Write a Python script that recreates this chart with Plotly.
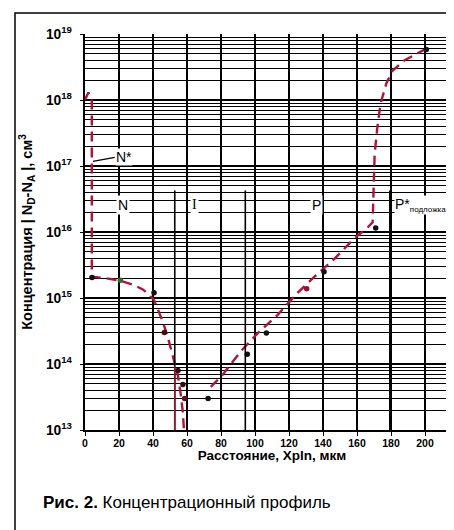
import plotly.graph_objects as go

# ---- data ----
# fitted profile (red dashed), left part (N*/N region down into I)
fit_left_x = [0, 2, 4, 4, 12, 20, 28, 34, 38, 40.6, 43, 46, 49, 52, 54.7, 56.5, 57.6, 58.2]
fit_left_y = [1.0e18, 1.3e18, 9.5e17, 2.1e15, 2.0e15, 1.85e15, 1.6e15, 1.35e15, 1.1e15, 9.3e14,
              6.6e14, 4.2e14, 2.4e14, 1.25e14, 6.6e13, 3.2e13, 1.8e13, 1.0e13]
# fitted profile, right part (I -> P -> P* substrate)
fit_right_x = [74, 81, 92, 102, 113.5, 125, 135, 147, 156.7, 161, 165.5, 169.2, 169.5, 169.8,
               170.4, 172, 173.9, 177.3, 181, 188, 200.8]
fit_right_y = [4.5e13, 6.9e13, 1.6e14, 3.0e14, 5.6e14, 1.2e15, 2.1e15, 4.0e15, 7.2e15, 9.1e15,
               1.12e16, 1.4e16, 2.6e16, 6.0e16, 1.55e17, 3.9e17, 8.9e17, 1.8e18, 2.8e18, 4.0e18, 6.0e18]
# measured points
meas_x = [4.1, 20.8, 40.6, 46.7, 54.7, 57.6, 58.6, 72.4, 95.5, 106.7, 130.4, 140.6, 171, 200.8]
meas_y = [2.05e15, 1.85e15, 1.2e15, 3.0e14, 8e13, 4.9e13, 3.0e13, 3.0e13, 1.4e14, 2.95e14,
          1.38e15, 2.5e15, 1.15e16, 5.8e18]
meas_colors = ["#111111", "#2f6b2f", "#111111", "#3a1010", "#2a1010", "#2a1010", "#5a1020",
               "#111111", "#111111", "#111111", "#9a1030", "#111111", "#111111", "#111111"]

x_ticks = [0, 20, 40, 60, 80, 100, 120, 140, 160, 180, 200, 220]

# region labels (x, log10 y, text)
region_x = [22.5, 64.5, 136]
region_text = ["N", "I", "P"]
region_fonts = ["Liberation Sans", "Liberation Serif", "Liberation Sans"]
region_label_logy = 16.41
boundary_x = [52.8, 94.3, 179.3]
boundary_top_logy = 16.63
YMIN_LOG, YMAX_LOG = 13, 19


def ypaper(logv):
    return (logv - YMIN_LOG) / (YMAX_LOG - YMIN_LOG)


RED = "#b3123a"
W, H = 454, 530
L, R, T, B = 77, 3, 26, 108

fig = go.Figure()
fig.add_trace(go.Scatter(x=fit_left_x, y=fit_left_y, mode="lines",
                         line=dict(color=RED, width=2.4, dash="10px,6px"), showlegend=False))
fig.add_trace(go.Scatter(x=fit_right_x, y=fit_right_y, mode="lines",
                         line=dict(color=RED, width=2.4, dash="10px,6px"), showlegend=False))
fig.add_trace(go.Scatter(x=meas_x, y=meas_y, mode="markers",
                         marker=dict(color=meas_colors, size=5.5), showlegend=False))

# region boundaries
for bx in boundary_x:
    fig.add_shape(type="line", xref="x", yref="paper", x0=bx, x1=bx, y0=0, y1=ypaper(boundary_top_logy),
                  line=dict(color="black", width=1.6), layer="above")
fig.add_shape(type="line", xref="x", yref="paper", x0=52.8, x1=52.8, y0=0, y1=ypaper(13.97),
              line=dict(color="#9b1236", width=1.6), layer="above")

for rx, rt, rf in zip(region_x, region_text, region_fonts):
    fig.add_annotation(x=rx, y=region_label_logy, xref="x", yref="y", text=rt, showarrow=False,
                       font=dict(family=rf, size=14, color="black"), bgcolor="white", borderpad=1)
fig.add_annotation(x=181.5, y=region_label_logy, xref="x", yref="y", xanchor="left",
                   text="P*<sub><span style=\"font-size:8px\">подложка</span></sub>", showarrow=False,
                   font=dict(family="Liberation Sans", size=14, color="black"), bgcolor="white", borderpad=0)
# N* label with leader line
fig.add_annotation(x=17.8, y=17.13, xref="x", yref="y", xanchor="left", text="N*", showarrow=False,
                   font=dict(family="Liberation Sans", size=14, color="black"), bgcolor="white", borderpad=0)
fig.add_shape(type="line", xref="x", yref="paper", x0=4.7, x1=17.5,
              y0=ypaper(17.07), y1=ypaper(17.13),
              line=dict(color="black", width=1.2), layer="above")

# outer frame of the scanned figure
pw = W - L - R
ph = H - T - B
fig.add_shape(type="rect", xref="paper", yref="paper",
              x0=(7 - L) / pw, x1=1.2, y0=-(528 - (H - B)) / ph, y1=1 + (T - 5) / ph,
              line=dict(color="black", width=1.5), fillcolor="rgba(0,0,0,0)")

# caption
fig.add_annotation(x=(33 - L) / pw, y=-(495 - (H - B)) / ph, xref="paper", yref="paper",
                   xanchor="left", yanchor="middle", showarrow=False,
                   text="<b>Рис. 2.</b> Концентрационный профиль",
                   font=dict(family="Liberation Sans", size=17, color="black"))

tickfont = dict(family="Liberation Sans", size=10.5, color="black", weight="bold")
fig.update_xaxes(range=[0, 220], tickvals=x_ticks, ticks="outside", ticklen=4, tickwidth=1.2,
                 tickcolor="black", tickfont=tickfont, ticklabelstandoff=-2,
                 ticklabeloverflow="allow",
                 showgrid=True, gridcolor="black", gridwidth=1.8,
                 showline=True, linecolor="black", linewidth=1.8, zeroline=False,
                 title=dict(text="Расстояние, Xpln, мкм", standoff=3,
                            font=dict(family="Liberation Sans", size=13.5, color="black", weight="bold")))
fig.update_yaxes(type="log", range=[YMIN_LOG, YMAX_LOG], dtick=1, exponentformat="power", ticks="outside",
                 ticklen=3, tickwidth=1.2, tickcolor="black",
                 tickfont=dict(family="Liberation Sans", size=11, color="black", weight="bold"),
                 ticklabelstandoff=6,
                 showgrid=True, gridcolor="black", gridwidth=2.0,
                 minor=dict(dtick="D1", showgrid=True, gridcolor="black", gridwidth=1.4),
                 showline=True, linecolor="black", linewidth=1.8,
                 title=dict(text="Концентрация | N<sub>D</sub>-N<sub>A</sub> |, см<sup>3</sup>", standoff=10,
                            font=dict(family="Liberation Sans", size=14.5, color="black", weight="bold")))

fig.update_layout(width=W, height=H, margin=dict(l=L, r=R, t=T, b=B, autoexpand=False),
                  plot_bgcolor="white", paper_bgcolor="white", showlegend=False)

fig.write_html("out.html")
